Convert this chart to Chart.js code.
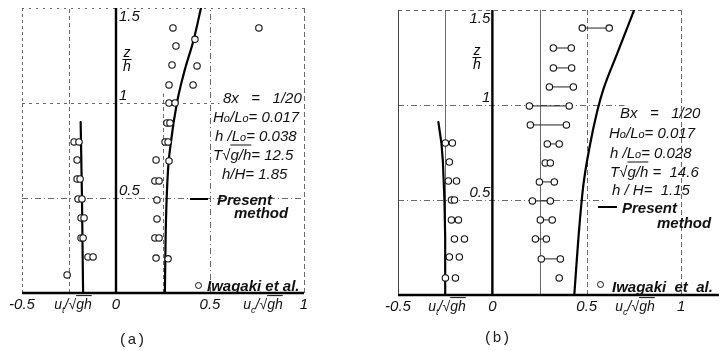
<!DOCTYPE html>
<html>
<head>
<meta charset="utf-8">
<script src="https://cdn.jsdelivr.net/npm/chart.js@4/dist/chart.umd.min.js"></script>
<style>
  body { margin: 0; background: #fff; }
  #wrap { position: relative; width: 724px; height: 351px; overflow: hidden; }
  canvas { position: absolute; top: 0; }
  .t { position: absolute; font: italic 15px "Liberation Sans", Arial, sans-serif; color: #111;
       line-height: 1; transform: translateY(-50%); white-space: pre; }
  .c { transform: translate(-50%, -50%); font-size: 14px; }
  .ov { text-decoration: overline; }
  .sm { font-size: 11px; }
  .b { font-weight: bold; }
  .cap { position: absolute; font: 15px "Liberation Mono", "DejaVu Sans Mono", monospace; color: #222;
         transform: translate(-50%, -50%); }
  .dash { position: absolute; height: 2px; background: #000; }
  .dot { position: absolute; width: 5px; height: 5px; border: 1.2px solid #111; border-radius: 50%; }
  .frac { position: absolute; font: italic 14px "Liberation Sans", Arial, sans-serif; text-align: center;
          line-height: 12px; transform: translateX(-50%); }
  .frac span { display: block; }
  .frac .num { border-bottom: 1.3px solid #111; padding: 0 1px 1px; }
</style>
</head>
<body>
<div id="wrap">
  <canvas id="ca" width="362" height="351" style="left:0"></canvas>
  <canvas id="cb" width="362" height="351" style="left:362px"></canvas>

  <!-- panel (a) texts -->
  <div class="frac" style="left:127px;top:46px"><span class="num">z</span><span>h</span></div>
  <div class="t" style="left:223px;top:97px">8x   =   1/20</div>
  <div class="t" style="left:213px;top:116px">H<span class="sm">o</span>/L<span class="sm">o</span>= 0.017</div>
  <div class="t" style="left:215px;top:135px">h /L<span class="sm">o</span>= 0.038</div>
  <div class="t" style="left:213px;top:154px">T√<span class="ov">g/h</span>= 12.5</div>
  <div class="t" style="left:222px;top:173px">h/H= 1.85</div>
  <div class="dash" style="left:190px;top:198px;width:18px"></div>
  <div class="t b" style="left:217px;top:199px">Present</div>
  <div class="t b" style="left:234px;top:212px">method</div>
  <div class="dot" style="left:195px;top:282px"></div>
  <div class="t b" style="left:207px;top:285px">Iwagaki et al.</div>
  <div class="t c" style="left:73px;top:306px">u<sub style="font-size:9px">t</sub>/√<span class="ov">gh</span></div>
  <div class="t c" style="left:263px;top:306px">u<sub style="font-size:9px">c</sub>/√<span class="ov">gh</span></div>
  <div class="cap" style="left:132px;top:340px">(a)</div>

  <!-- panel (b) texts -->
  <div class="frac" style="left:477px;top:44px"><span class="num">z</span><span>h</span></div>
  <div class="t" style="left:620px;top:112px">Bx   =   1/20</div>
  <div class="t" style="left:609px;top:132px">H<span class="sm">o</span>/L<span class="sm">o</span>= 0.017</div>
  <div class="t" style="left:610px;top:152px">h /L<span class="sm">o</span>= 0.028</div>
  <div class="t" style="left:610px;top:171px">T√<span class="ov">g/h</span> =  14.6</div>
  <div class="t" style="left:612px;top:189px">h / H=  1.15</div>
  <div class="dash" style="left:598px;top:206px;width:19px"></div>
  <div class="t b" style="left:622px;top:207px">Present</div>
  <div class="t b" style="left:657px;top:222px">method</div>
  <div class="dot" style="left:597px;top:281px"></div>
  <div class="t b" style="left:612px;top:286px">Iwagaki  et  al.</div>
  <div class="t c" style="left:447px;top:308px">u<sub style="font-size:9px">t</sub>/√<span class="ov">gh</span></div>
  <div class="t c" style="left:635px;top:308px">u<sub style="font-size:9px">c</sub>/√<span class="ov">gh</span></div>
  <div class="cap" style="left:497px;top:338px">(b)</div>
</div>

<script>
// tick labels
const uTicks = [-0.5, 0, 0.5, 1];
const uTickLabels = ['-0.5', '0', '0.5', '1'];
const zTicks = [0.5, 1, 1.5];
const zTickLabels = ['0.5', '1', '1.5'];

// (a) present method, trough and crest
const curveAtZ = [0, 0.5, 0.9];
const curveAtU = [-0.175, -0.181, -0.188];
const curveAcZ = [0, 0.3, 0.6, 0.8, 1.0, 1.16, 1.34, 1.5];
const curveAcU = [0.26, 0.264, 0.274, 0.293, 0.324, 0.362, 0.415, 0.452];

// (a) Iwagaki et al. measurements
const ptsAtU = [-0.223, -0.197, -0.207, -0.207, -0.191, -0.202, -0.181, -0.186, -0.170, -0.186, -0.175, -0.149, -0.122, -0.26];
const ptsAtZ = [0.795, 0.795, 0.7, 0.6, 0.6, 0.495, 0.495, 0.395, 0.395, 0.29, 0.29, 0.19, 0.19, 0.095];
const ptsAcU = [0.303, 0.42, 0.319, 0.298, 0.431, 0.282, 0.41, 0.282, 0.314, 0.271, 0.287, 0.261, 0.277,
                0.213, 0.282, 0.207, 0.229, 0.218, 0.218, 0.207, 0.229, 0.213, 0.277, 0.76];
const ptsAcZ = [1.395, 1.335, 1.3, 1.2, 1.195, 1.095, 1.095, 1.0, 1.0, 0.895, 0.895, 0.795, 0.795,
                0.7, 0.695, 0.59, 0.59, 0.49, 0.39, 0.29, 0.29, 0.184, 0.18, 1.395];

// (b) present method
const curveBtZ = [0, 0.3, 0.5, 0.7, 0.8, 0.91];
const curveBtU = [-0.249, -0.25, -0.254, -0.262, -0.27, -0.286];
const curveBcZ = [0, 0.29, 0.57, 0.8, 0.97, 1.08, 1.27, 1.5];
const curveBcU = [0.434, 0.455, 0.481, 0.519, 0.556, 0.587, 0.661, 0.751];

// (b) Iwagaki et al. (ranges at each level)
const ptsBcZ  = [1.405, 1.3, 1.195, 1.095, 0.995, 0.895, 0.795, 0.695, 0.595, 0.495, 0.395, 0.295, 0.19, 0.09];
const ptsBcLo = [0.476, 0.323, 0.323, 0.302, 0.196, 0.201, 0.291, 0.28, 0.249, 0.212, 0.254, 0.228, 0.259, 0.354];
const ptsBcHi = [0.619, 0.418, 0.42, 0.429, 0.407, 0.392, 0.354, 0.307, 0.328, 0.307, 0.317, 0.286, 0.36, null];
const ptsBtZ  = [0.8, 0.7, 0.6, 0.5, 0.395, 0.295, 0.2, 0.09];
const ptsBtLo = [-0.249, -0.228, -0.233, -0.217, -0.217, -0.201, -0.228, -0.249];
const ptsBtHi = [-0.212, null, -0.19, -0.201, -0.18, -0.148, -0.175, -0.196];

const toXY = (us, zs) => zs.map((z, i) => ({ x: us[i], y: z }));
const pairs = (lo, hi, zs) => zs.flatMap((z, i) => hi[i] == null ? [{ x: lo[i], y: z }] : [{ x: lo[i], y: z }, { x: hi[i], y: z }]);

const circle = {
  showLine: false, pointStyle: 'circle', pointRadius: 3.2,
  pointBackgroundColor: '#fff', pointBorderColor: '#111', pointBorderWidth: 1.1
};
const curve = {
  showLine: true, pointRadius: 0, borderColor: '#000', borderWidth: 2.2, tension: 0, fill: false
};
const smooth = { ...curve, cubicInterpolationMode: 'monotone' };

function framePlugin(cfg) {
  return {
    id: 'frame',
    beforeDatasetsDraw(chart) {
      const { ctx, scales: { x, y } } = chart;
      ctx.save();
      cfg.grid.forEach(g => {
        ctx.beginPath();
        ctx.setLineDash(g.dash || []);
        ctx.lineWidth = g.w || 0.8;
        ctx.strokeStyle = '#444';
        if (g.u !== undefined) {
          const px = Math.round(x.getPixelForValue(g.u)) + 0.5;
          ctx.moveTo(px, y.getPixelForValue(g.from ?? 0));
          ctx.lineTo(px, y.getPixelForValue(g.to ?? 1.5));
        } else {
          const py = Math.round(y.getPixelForValue(g.z)) + 0.5;
          ctx.moveTo(x.getPixelForValue(g.from), py);
          ctx.lineTo(x.getPixelForValue(g.to), py);
        }
        ctx.stroke();
      });
      // main axes
      ctx.setLineDash([]);
      ctx.strokeStyle = '#000';
      ctx.lineWidth = 2.4;
      ctx.beginPath();
      ctx.moveTo(x.getPixelForValue(x.min), y.getPixelForValue(0));
      ctx.lineTo(x.getPixelForValue(x.max), y.getPixelForValue(0));
      ctx.moveTo(x.getPixelForValue(0), y.getPixelForValue(0));
      ctx.lineTo(x.getPixelForValue(0), y.getPixelForValue(1.5));
      ctx.stroke();

      ctx.fillStyle = '#111';
      ctx.font = 'italic 15px "Liberation Sans", Arial, sans-serif';
      ctx.textBaseline = 'middle';
      ctx.textAlign = 'center';
      uTicks.forEach((v, i) => ctx.fillText(uTickLabels[i], x.getPixelForValue(v), y.getPixelForValue(0) + 12));
      const x0 = x.getPixelForValue(0);
      ctx.textAlign = cfg.zAlign;
      zTicks.forEach((v, i) => {
        let py = y.getPixelForValue(v) - 7;
        if (v === 1.5) py = y.getPixelForValue(v) + 9;
        ctx.fillText(zTickLabels[i], cfg.zAlign === 'left' ? x0 + 3 : x0 - 2, py);
      });
      ctx.restore();
    }
  };
}

function makePanel(id, datasets, xmax, padding, cfg) {
  new Chart(document.getElementById(id), {
    type: 'scatter',
    data: { datasets },
    options: {
      responsive: false,
      animation: false,
      layout: { padding },
      plugins: { legend: { display: false }, tooltip: { enabled: false } },
      scales: {
        x: { type: 'linear', min: -0.5, max: xmax, display: false },
        y: { type: 'linear', min: 0, max: 1.5, display: false }
      },
      elements: { line: { borderCapStyle: 'round' } }
    },
    plugins: [framePlugin(cfg)]
  });
}

makePanel('ca', [
  { ...circle, data: toXY(ptsAtU, ptsAtZ), clip: false },
  { ...circle, data: toXY(ptsAcU, ptsAcZ), clip: false },
  { ...curve, data: toXY(curveAtU, curveAtZ) },
  { ...smooth, data: toXY(curveAcU, curveAcZ) }
], 1.0, { left: 22, right: 58, top: 8, bottom: 58 }, {
  zAlign: 'left',
  grid: [
    { u: -0.5, dash: [3, 3] },
    { u: -0.25, dash: [4, 3] },
    { u: 0.25, to: 1.05, dash: [4, 3] },
    { u: 0.5, dash: [6, 3, 1, 3] },
    { u: 1.0, dash: [5, 3] },
    { z: 0.5, from: -0.5, to: 1.0, dash: [6, 3, 1, 3] },
    { z: 1.0, from: -0.5, to: 0.55, dash: [3, 4] },
    { z: 1.5, from: -0.5, to: 1.0, dash: [2, 5] }
  ]
});

const pairSets = ptsBcZ.map((z, i) => ({
  ...circle, showLine: true, borderColor: '#222', borderWidth: 1, clip: false,
  data: ptsBcHi[i] == null ? [{ x: ptsBcLo[i], y: z }] : [{ x: ptsBcLo[i], y: z }, { x: ptsBcHi[i], y: z }]
}));

makePanel('cb', [
  { ...circle, data: pairs(ptsBtLo, ptsBtHi, ptsBtZ), clip: false },
  ...pairSets,
  { ...curve, data: toXY(curveBtU, curveBtZ) },
  { ...smooth, data: toXY(curveBcU, curveBcZ) }
], 1.2, { left: 36, right: 5, top: 10, bottom: 56 }, {
  zAlign: 'right',
  grid: [
    { u: -0.5, w: 1 },
    { u: -0.25, w: 0.8 },
    { u: 0.25, w: 0.8 },
    { u: 0.5, dash: [5, 3] },
    { u: 1.0, dash: [5, 3] },
    { z: 0.5, from: -0.5, to: 0.6, dash: [6, 3, 1, 3] },
    { z: 1.0, from: -0.5, to: 0.7, dash: [6, 3, 1, 3] },
    { z: 1.5, from: -0.5, to: 1.0, dash: [4, 4] }
  ]
});
</script>
</body>
</html>
